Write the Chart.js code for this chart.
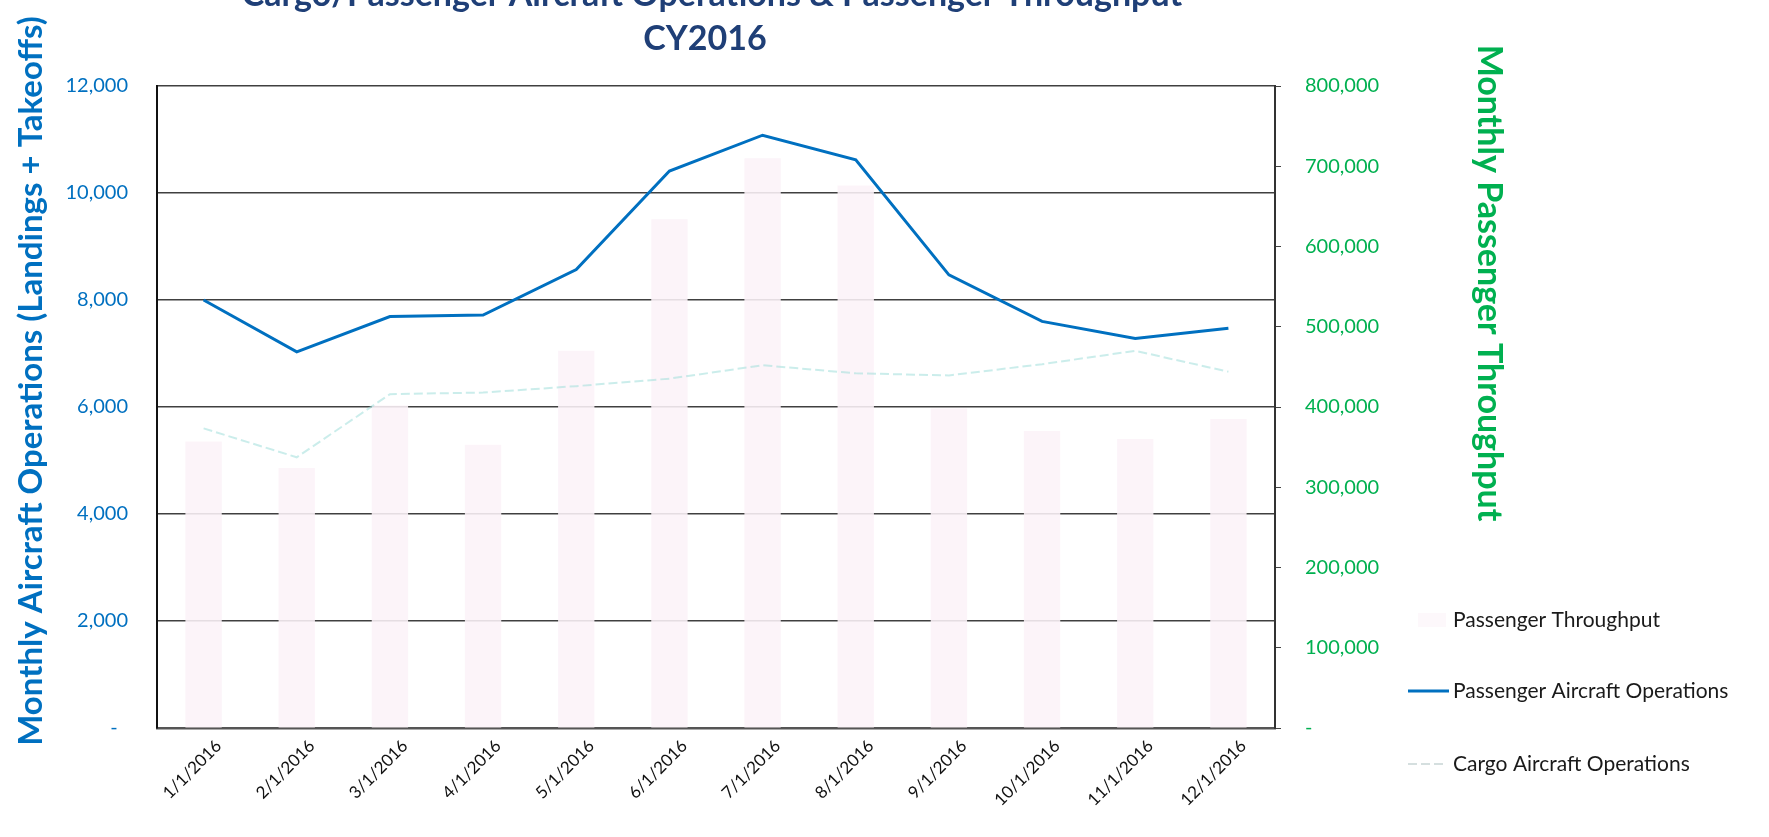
<!DOCTYPE html>
<html>
<head>
<meta charset="utf-8">
<script src="https://cdn.jsdelivr.net/npm/chart.js@4.4.1/dist/chart.umd.min.js"></script>
<style>
    html, body { margin: 0; padding: 0; background: #fff; }
</style>
</head>
<body>
<canvas id="graphe" width="1769" height="837"></canvas>
<script>
// Données
const mois = ['1/1/2016', '2/1/2016', '3/1/2016', '4/1/2016', '5/1/2016', '6/1/2016',
              '7/1/2016', '8/1/2016', '9/1/2016', '10/1/2016', '11/1/2016', '12/1/2016'];
const passagers = [357000, 324000, 402000, 353000, 470000, 634000, 710000, 676000, 398000, 370000, 360000, 385000];
const opsPassagers = [8000, 7030, 7690, 7720, 8570, 10410, 11080, 10620, 8470, 7600, 7280, 7470];
const opsCargo = [5600, 5060, 6240, 6270, 6390, 6530, 6780, 6630, 6590, 6800, 7050, 6660];
const ticksOps = [0, 2000, 4000, 6000, 8000, 10000, 12000];
const ticksPax = [0, 100000, 200000, 300000, 400000, 500000, 600000, 700000, 800000];
const titre = ['Cargo/Passenger Aircraft Operations & Passenger Throughput', 'CY2016'];
const titreGauche = 'Monthly Aircraft Operations (Landings + Takeoffs)';
const titreDroite = 'Monthly Passenger Throughput';
const legende = ['Passenger Throughput', 'Passenger Aircraft Operations', 'Cargo Aircraft Operations'];

const BLEU = '#0070C0';
const VERT = '#00B050';
const MARINE = '#1F3F77';
const ROSE = 'rgba(252, 243, 248, 0.88)';
const CARGO = 'rgba(160, 222, 218, 0.55)';

function formatNombre(v) {
    if (v === 0) return '-  ';
    return v.toLocaleString('en-US');
}

// Titres et légende dessinés à la main (placement libre comme dans Excel)
const textes = {
    id: 'textes',
    afterDraw(chart) {
        const ctx = chart.ctx;
        ctx.save();
        ctx.fillStyle = MARINE;
        ctx.textAlign = 'center';
        ctx.textBaseline = 'alphabetic';
        ctx.font = 'bold 34px Lato';
        ctx.fillText(titre[0], 712, 6);
        ctx.fillText(titre[1], 705, 50);

        // titre axe gauche
        ctx.save();
        ctx.translate(31, 381);
        ctx.rotate(-Math.PI / 2);
        ctx.textBaseline = 'middle';
        ctx.fillStyle = BLEU;
        ctx.font = 'bold 33px Lato';
        ctx.fillText(titreGauche, 0, 0);
        ctx.restore();

        // titre axe droit
        ctx.save();
        ctx.translate(1489, 283);
        ctx.rotate(Math.PI / 2);
        ctx.textBaseline = 'middle';
        ctx.fillStyle = VERT;
        ctx.font = 'bold 34px Lato';
        ctx.fillText(titreDroite, 0, 0);
        ctx.restore();

        // légende
        const ys = [620, 691, 764];
        ctx.textAlign = 'left';
        ctx.textBaseline = 'middle';
        ctx.font = '21px Lato';
        ctx.fillStyle = '#1a1a1a';
        legende.forEach((txt, i) => ctx.fillText(txt, 1453, ys[i]));
        ctx.fillStyle = 'rgba(252, 243, 248, 0.6)';
        ctx.fillRect(1418, ys[0] - 7, 28, 14);
        ctx.strokeStyle = BLEU;
        ctx.lineWidth = 3;
        ctx.beginPath();
        ctx.moveTo(1408, ys[1]);
        ctx.lineTo(1449, ys[1]);
        ctx.stroke();
        ctx.strokeStyle = 'rgba(195, 210, 210, 0.7)';
        ctx.lineWidth = 2;
        ctx.setLineDash([9, 4]);
        ctx.beginPath();
        ctx.moveTo(1408, ys[2]);
        ctx.lineTo(1445, ys[2]);
        ctx.stroke();
        ctx.restore();
    }
};

Chart.defaults.font.family = 'Lato';

const ctx = document.getElementById('graphe').getContext('2d');
const graphe = new Chart(ctx, {
    type: 'bar',
    data: {
        labels: mois,
        datasets: [{
            type: 'line',
            label: legende[1],
            data: opsPassagers,
            yAxisID: 'y',
            borderColor: BLEU,
            borderWidth: 3,
            pointRadius: 0,
            tension: 0,
            order: 1
        }, {
            type: 'line',
            label: legende[2],
            data: opsCargo,
            yAxisID: 'y',
            borderColor: CARGO,
            borderWidth: 2,
            borderDash: [9, 4],
            pointRadius: 0,
            tension: 0,
            order: 2
        }, {
            type: 'bar',
            label: legende[0],
            data: passagers,
            yAxisID: 'y1',
            backgroundColor: ROSE,
            barPercentage: 0.39,
            categoryPercentage: 1,
            order: 3
        }]
    },
    options: {
        responsive: false,
        animation: false,
        devicePixelRatio: 1,
        layout: { padding: { top: 86, left: 0, right: 0, bottom: 0 } },
        plugins: {
            legend: { display: false },
            title: { display: false },
            tooltip: { enabled: false }
        },
        scales: {
            x: {
                afterFit: s => { s.height = 109; },
                grid: { display: false, drawTicks: false },
                border: { display: true, color: '#555', width: 2.5 },
                ticks: {
                    color: '#111',
                    font: { size: 17 },
                    minRotation: 45,
                    maxRotation: 45,
                    autoSkip: false,
                    padding: 8,
                    labelOffset: 15
                }
            },
            y: {
                position: 'left',
                min: 0,
                max: 12000,
                afterFit: s => { s.width = 157; },
                afterBuildTicks: s => { s.ticks = ticksOps.map(v => ({ value: v })); },
                grid: { color: '#404040', lineWidth: 1.5, drawTicks: false },
                border: { display: true, color: '#111', width: 2 },
                ticks: {
                    color: BLEU,
                    font: { size: 20 },
                    padding: 29,
                    callback: v => formatNombre(v)
                }
            },
            y1: {
                position: 'right',
                min: 0,
                max: 800000,
                afterFit: s => { s.width = 494; },
                afterBuildTicks: s => { s.ticks = ticksPax.map(v => ({ value: v })); },
                grid: { drawOnChartArea: false, color: '#444', tickLength: 6 },
                border: { display: true, color: '#333', width: 2 },
                ticks: {
                    color: VERT,
                    font: { size: 20 },
                    padding: 24,
                    callback: v => formatNombre(v).trim()
                }
            }
        }
    },
    plugins: [textes]
});
</script>
</body>
</html>
